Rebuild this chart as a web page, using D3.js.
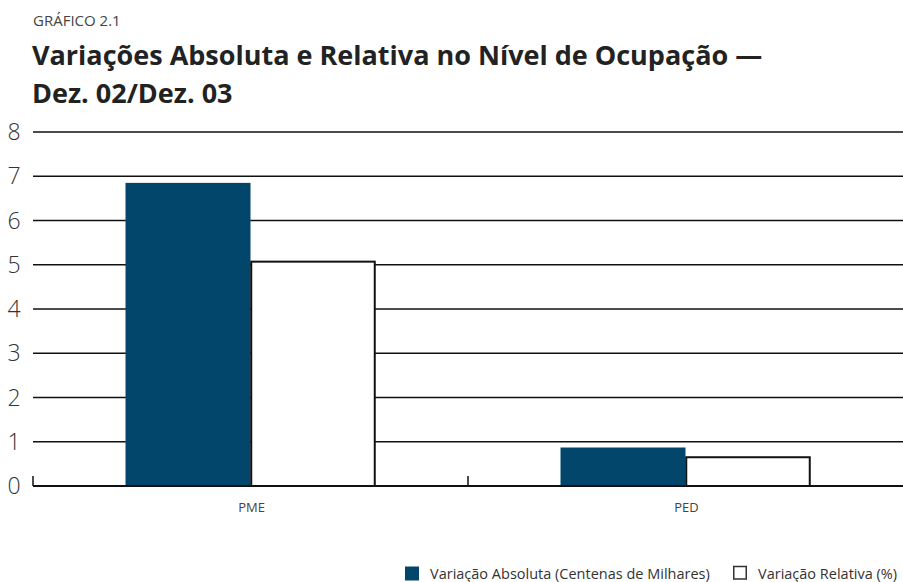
<!DOCTYPE html>
<html>
<head>
<meta charset="utf-8">
<script src="https://cdn.jsdelivr.net/npm/d3@7"></script>
<style>
  body { margin: 0; background: #fff; }
  svg text { font-family: "Open Sans", "Noto Sans", sans-serif; }
</style>
</head>
<body>
<div id="canvas"></div>
<script>
  // chart values
  var categories = ['PME', 'PED'];
  var seriesNames = ['Variação Absoluta (Centenas de Milhares)', 'Variação Relativa (%)'];
  var absoluta = [6.85, 0.87];
  var relativa = [5.07, 0.65];
  var yTicks = [0, 1, 2, 3, 4, 5, 6, 7, 8];

  var width = 903, height = 582;
  var plotLeft = 33, plotRight = 903, plotTop = 132, plotBottom = 486;
  var darkBlue = '#02476b';

  var svg = d3.select('#canvas').append('svg')
    .attr('width', width)
    .attr('height', height);

  // titles
  svg.append('text')
    .attr('x', 33).attr('y', 26)
    .style('font-size', '15px')
    .attr('fill', '#444')
    .text('GRÁFICO 2.1');
  svg.append('text')
    .attr('x', 32).attr('y', 65)
    .style('font-size', '27px')
    .style('font-weight', 'bold')
    .attr('fill', '#222')
    .text('Variações Absoluta e Relativa no Nível de Ocupação —');
  svg.append('text')
    .attr('x', 32).attr('y', 103)
    .style('font-size', '27px')
    .style('font-weight', 'bold')
    .attr('fill', '#222')
    .text('Dez. 02/Dez. 03');

  var y = d3.scaleLinear().domain([0, 8]).range([plotBottom, plotTop]);
  var x0 = d3.scaleBand().domain(categories).range([plotLeft, plotRight]);
  var x1 = d3.scaleBand().domain(seriesNames).range([0, 250]);

  // gridlines
  svg.append('g')
    .selectAll('line')
    .data(yTicks.filter(function (d) { return d > 0; }))
    .enter()
    .append('line')
    .attr('x1', plotLeft).attr('x2', plotRight)
    .attr('y1', function (d) { return y(d); })
    .attr('y2', function (d) { return y(d); })
    .attr('stroke', '#111')
    .attr('stroke-width', 1.5);

  // y labels
  svg.append('g')
    .selectAll('text')
    .data(yTicks)
    .enter()
    .append('text')
    .attr('x', 14)
    .attr('y', function (d) { return y(d) + 8; })
    .attr('text-anchor', 'middle')
    .style('font-size', '23px')
    .style('font-weight', 300)
    .attr('fill', '#333')
    .text(function (d) { return d; });

  // bars
  var groups = svg.append('g')
    .selectAll('g')
    .data(categories)
    .enter()
    .append('g')
    .attr('transform', function (d) {
      return 'translate(' + (x0(d) + x0.bandwidth() / 2 - 125) + ',0)';
    });

  groups.each(function (cat, i) {
    var g = d3.select(this);
    var vals = [absoluta[i], relativa[i]];
    g.selectAll('rect')
      .data(vals)
      .enter()
      .append('rect')
      .attr('x', function (d, j) { return x1(seriesNames[j]) + (j ? 0.75 : 0); })
      .attr('y', function (d) { return y(d); })
      .attr('width', function (d, j) { return x1.bandwidth() - (j ? 1.5 : 0); })
      .attr('height', function (d) { return plotBottom - y(d); })
      .attr('fill', function (d, j) { return j ? '#fff' : darkBlue; })
      .attr('stroke', function (d, j) { return j ? '#111' : 'none'; })
      .attr('stroke-width', 2);
  });

  // baseline and ticks
  svg.append('line')
    .attr('x1', plotLeft).attr('x2', plotRight)
    .attr('y1', plotBottom).attr('y2', plotBottom)
    .attr('stroke', '#111')
    .attr('stroke-width', 2);
  svg.append('g')
    .selectAll('line')
    .data([plotLeft, x0('PED')])
    .enter()
    .append('line')
    .attr('x1', function (d) { return d; })
    .attr('x2', function (d) { return d; })
    .attr('y1', plotBottom - 10).attr('y2', plotBottom)
    .attr('stroke', '#111')
    .attr('stroke-width', 1.5);

  // category labels
  svg.append('g')
    .selectAll('text')
    .data(categories)
    .enter()
    .append('text')
    .attr('x', function (d) { return x0(d) + x0.bandwidth() / 2 + 1; })
    .attr('y', 512)
    .attr('text-anchor', 'middle')
    .style('font-size', '13px')
    .attr('fill', '#444')
    .text(function (d) { return d; });

  // legend
  var legend = svg.append('g');
  var legendX = [405, 733];
  seriesNames.forEach(function (name, j) {
    legend.append('rect')
      .attr('x', legendX[j] + (j ? 0.75 : 0))
      .attr('y', 566.5)
      .attr('width', j ? 12.5 : 14)
      .attr('height', j ? 12.5 : 14)
      .attr('fill', j ? '#fff' : darkBlue)
      .attr('stroke', j ? '#333' : 'none')
      .attr('stroke-width', 1.5);
    legend.append('text')
      .attr('x', legendX[j] + 25)
      .attr('y', 579)
      .style('font-size', '14.5px')
      .attr('fill', '#333')
      .text(name);
  });
</script>
</body>
</html>
